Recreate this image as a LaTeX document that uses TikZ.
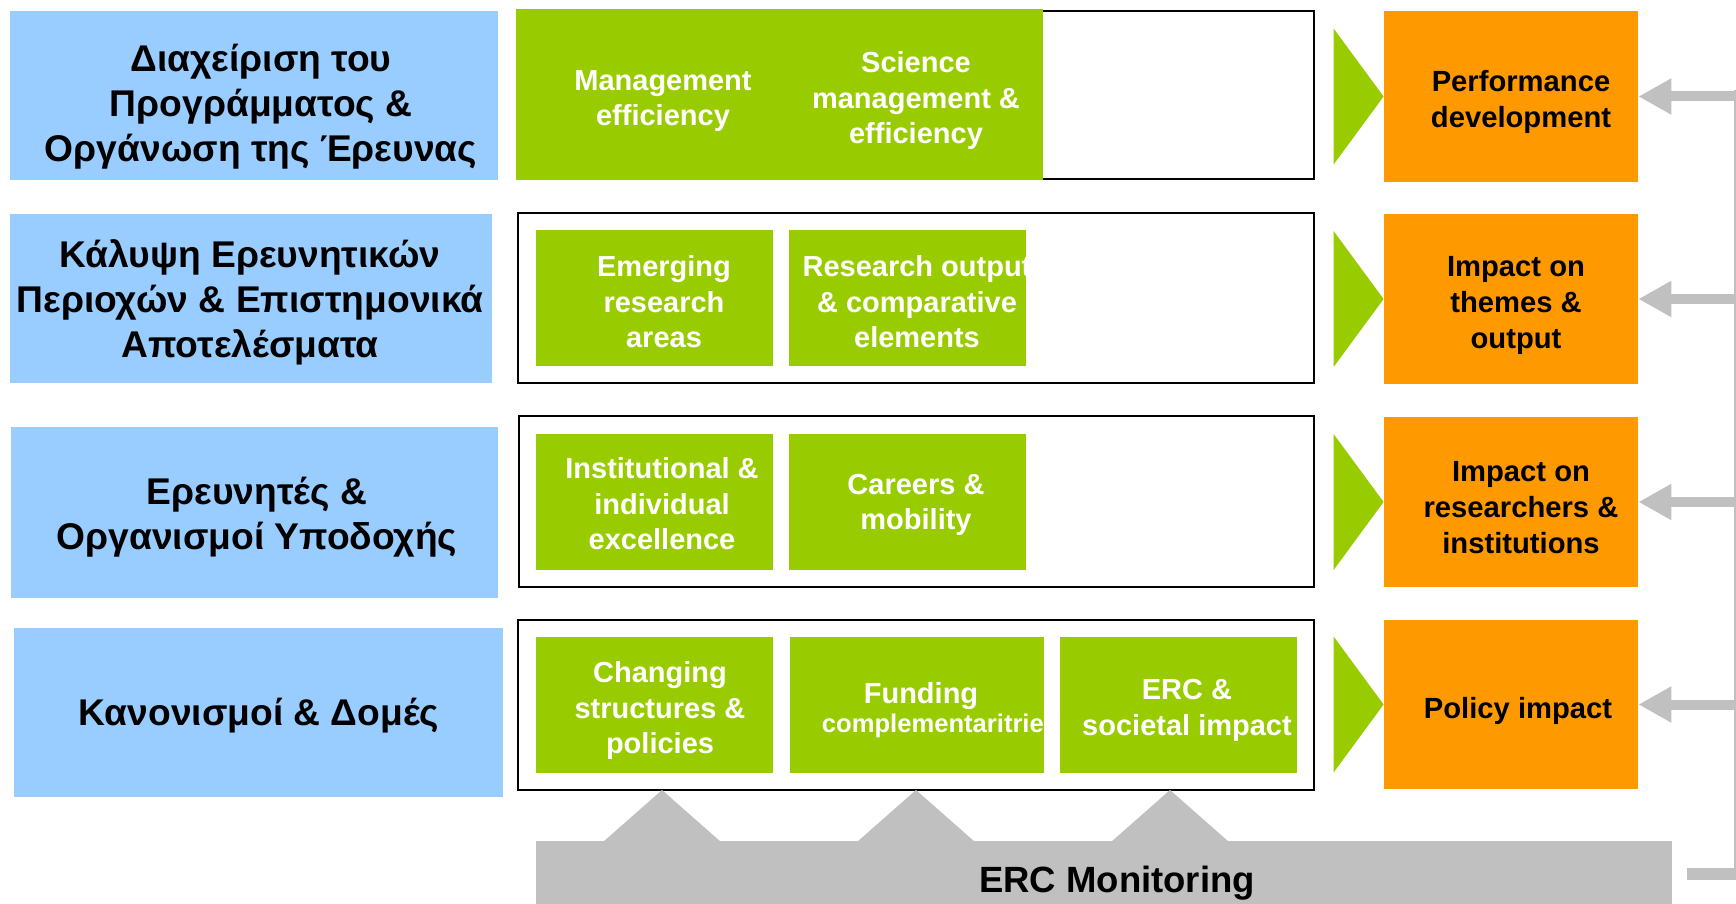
\documentclass[tikz,border=0pt]{standalone}
\usepackage{fontspec}
\setmainfont{Liberation Sans}
\usetikzlibrary{arrows.meta,fit}
\definecolor{skyblue}{HTML}{99CCFF}
\definecolor{leaf}{HTML}{99CC00}
\definecolor{amber}{HTML}{FF9900}
\definecolor{ash}{HTML}{C0C0C0}

\begin{document}
\begin{tikzpicture}[x=0.5pt,y=-0.5pt,inner sep=0pt,
                    >={Triangle[length=16.5pt,width=17pt]}]
  \tikzstyle{theme}=[fill=skyblue]
  \tikzstyle{themetext}=[align=center,font=\fontsize{18.6}{22.5}\selectfont\bfseries]
  \tikzstyle{holder}=[draw=black,line width=1pt,fill=white]
  \tikzstyle{field}=[fill=leaf]
  \tikzstyle{fieldtext}=[text=white,align=center,font=\fontsize{14.5}{17.75}\selectfont\bfseries]
  \tikzstyle{impact}=[fill=amber]
  \tikzstyle{impacttext}=[align=center,font=\fontsize{14.6}{18}\selectfont\bfseries]
  \tikzstyle{feedback}=[draw=ash,line width=5pt]

  \useasboundingbox (0,0) rectangle (1736,904);
  \clip (0,0) rectangle (1736,904);

  \node[theme,fit={(10,11) (498,180)}]  (B1) {};
  \node[theme,fit={(10,214) (492,383)}] (B2) {};
  \node[theme,fit={(11,427) (498,598)}] (B3) {};
  \node[theme,fit={(14,628) (503,797)}] (B4) {};
  \node[themetext] (B1t) at (261,107) {Διαχείριση του\\Προγράμματος \&\\Οργάνωση της Έρευνας};
  \node[themetext] (B2t) at (250,302) {Κάλυψη Ερευνητικών\\Περιοχών \& Επιστημονικά\\Αποτελέσματα};
  \node[themetext] (B3t) at (257,517) {Ερευνητές \&\\Οργανισμοί Υποδοχής};
  \node[themetext] (B4t) at (259,716) {Κανονισμοί \& Δομές};

  \node[holder,fit={(517,11) (1314,179)}]  (F1) {};
  \node[holder,fit={(518,213) (1314,383)}] (F2) {};
  \node[holder,fit={(519,416) (1314,587)}] (F3) {};
  \node[holder,fit={(518,620) (1314,790)}] (F4) {};

  \node[field,fit={(515.5,9.5) (1043,180)}] (G1) {};
  \node[fieldtext] (G1a) at (663,101) {Management\\efficiency};
  \node[fieldtext] (G1b) at (916,101) {Science\\management \&\\efficiency};

  \node[field,fit={(536,230) (773,366)}]  (G21) {};
  \node[field,fit={(789,230) (1026,366)}] (G22) {};
  \node[fieldtext] (G21t) at (664,302) {Emerging\\research\\areas};
  \begin{scope}
    \clip (G22.north west) rectangle (G22.south east);
    \node[fieldtext] (G22t) at (917,302) {Research output\\\& comparative\\elements};
  \end{scope}

  \node[field,fit={(536,434) (773,570)}]  (G31) {};
  \node[field,fit={(789,434) (1026,570)}] (G32) {};
  \node[fieldtext] (G31t) at (662,504) {Institutional \&\\individual\\excellence};
  \node[fieldtext] (G32t) at (916,505) {Careers \&\\mobility};

  \node[field,fit={(536,637) (773,773)}]   (G41) {};
  \node[field,fit={(790,637) (1044,773)}]  (G42) {};
  \node[field,fit={(1060,637) (1297,773)}] (G43) {};
  \node[fieldtext] (G41t) at (660,710.5) {Changing\\structures \&\\policies};
  \begin{scope}
    \clip (G42.north west) rectangle (G42.south east);
    \node[fieldtext] (G42t) at (921,710.5) {Funding\\[-3.25pt]{\fontsize{12.8}{14.5}\selectfont\hspace*{19pt}complementaritries}};
  \end{scope}
  \node[fieldtext] (G43t) at (1187,710.5) {ERC \&\\societal impact};

  \node[impact,fit={(1384,11) (1638,182)}]  (O1) {};
  \node[impact,fit={(1384,214) (1638,384)}] (O2) {};
  \node[impact,fit={(1384,417) (1638,587)}] (O3) {};
  \node[impact,fit={(1384,620) (1638,789)}] (O4) {};
  \node[impacttext] (O1t) at (1521,101.5) {Performance\\development};
  \node[impacttext] (O2t) at (1516,305.5) {Impact on\\themes \&\\output};
  \node[impacttext] (O3t) at (1521,507.5) {Impact on\\researchers \&\\institutions};
  \node[impacttext] (O4t) at (1518,711) {Policy impact};

  \foreach \o in {O1,O2,O3,O4}
    \fill[leaf] (\o.west) -- ++(-50,-68) -- ++(0,136) -- cycle;

  \node[fill=ash,fit={(536,841) (1672,920)}] (M) {};
  \foreach \px in {662,916,1170}
    \fill[ash] (\px-59,842) -- (\px,790) -- (\px+59,842) -- cycle;
  \node[anchor=base,font=\fontsize{18.25}{22}\selectfont\bfseries] (MT) at (1117,892) {ERC Monitoring};

  \coordinate (Q0) at (1687,874);
  \coordinate (Q)  at (1740,874);
  \coordinate (Q1) at (1740,90);
  \draw[ash,line width=6pt] (Q0) -- (Q) -- (Q1);
  \foreach \o in {O1,O2,O3,O4}
    \draw[feedback,->] (\o.east -| Q) -- (\o.east);
\end{tikzpicture}
\end{document}
